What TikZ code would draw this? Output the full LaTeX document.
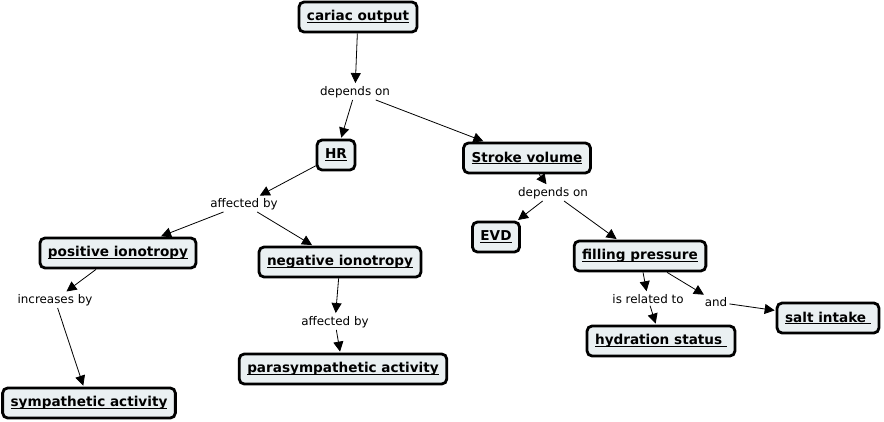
\documentclass[tikz,border=0pt]{standalone}
\usepackage{fontspec}
\setmainfont{DejaVu Sans}
\usetikzlibrary{arrows.meta}
\definecolor{conceptfill}{RGB}{234,240,242}
\newcommand{\cmul}[1]{\leavevmode\setbox0=\hbox{#1}\rlap{\rule[-2pt]{\wd0}{1.1pt}}\box0}

\begin{document}
\begin{tikzpicture}[x=1pt, y=-1pt,
  concept/.style={draw=black, line width=2.8pt, rounded corners=5pt, fill=conceptfill,
    inner xsep=8pt, minimum height=30pt, font=\bfseries\fontsize{13.6}{15}\selectfont},
  linkph/.style={inner sep=2pt, font=\fontsize{11.9}{13}\selectfont},
  link/.style={line width=0.8pt, -{Triangle[length=10pt,width=10pt]}, shorten >=1pt}]
\useasboundingbox (0,0) rectangle (884,421);

\node[concept] (co) at (358,17) {\cmul{cariac output}};
\node[linkph] (dep1) at (355,92) {depends on};
\node[concept] (hr) at (336,155) {\cmul{HR}};
\node[concept] (sv) at (527,158) {\cmul{Stroke volume}};

\node[linkph] (aff1) at (244,204) {affected by};
\node[concept] (pos) at (118,253) {\cmul{positive ionotropy}};
\node[concept] (neg) at (340,262) {\cmul{negative ionotropy}};
\node[linkph] (inc) at (55,300) {increases by};
\node[concept] (sym) at (89,403) {\cmul{sympathetic activity}};
\node[linkph] (aff2) at (335,322) {affected by};
\node[concept] (para) at (343,369) {\cmul{parasympathetic activity}};

\node[linkph] (dep2) at (553,193) {depends on};
\node[concept] (evd) at (496,237) {\cmul{EVD}};
\node[concept] (fp) at (640,256) {\cmul{filling pressure}};
\node[linkph] (rel) at (648,299) {is related to};
\node[concept] (hyd) at (661,341) {\cmul{hydration status\ }};
\node[linkph] (and) at (716,302) {and};
\node[concept] (salt) at (828,318) {\cmul{salt intake\ }};

\draw[link] (co) -- (dep1);
\draw[link] (dep1) -- (hr);
\draw[link] (dep1) -- (sv);
\draw[link] (hr) -- (aff1);
\draw[link] (aff1) -- (pos);
\draw[link] (aff1) -- (neg);
\draw[link] (pos) -- (inc);
\draw[link] (inc) -- (sym);
\draw[link] (neg) -- (aff2);
\draw[link] (aff2) -- (para);
\draw[link] (sv) -- (dep2);
\draw[link] (dep2) -- (evd);
\draw[link] (dep2) -- (fp);
\draw[link] (fp) -- (rel);
\draw[link] (rel) -- (hyd);
\draw[link] (fp) -- (and);
\draw[link] (and) -- (salt);
\end{tikzpicture}
\end{document}
